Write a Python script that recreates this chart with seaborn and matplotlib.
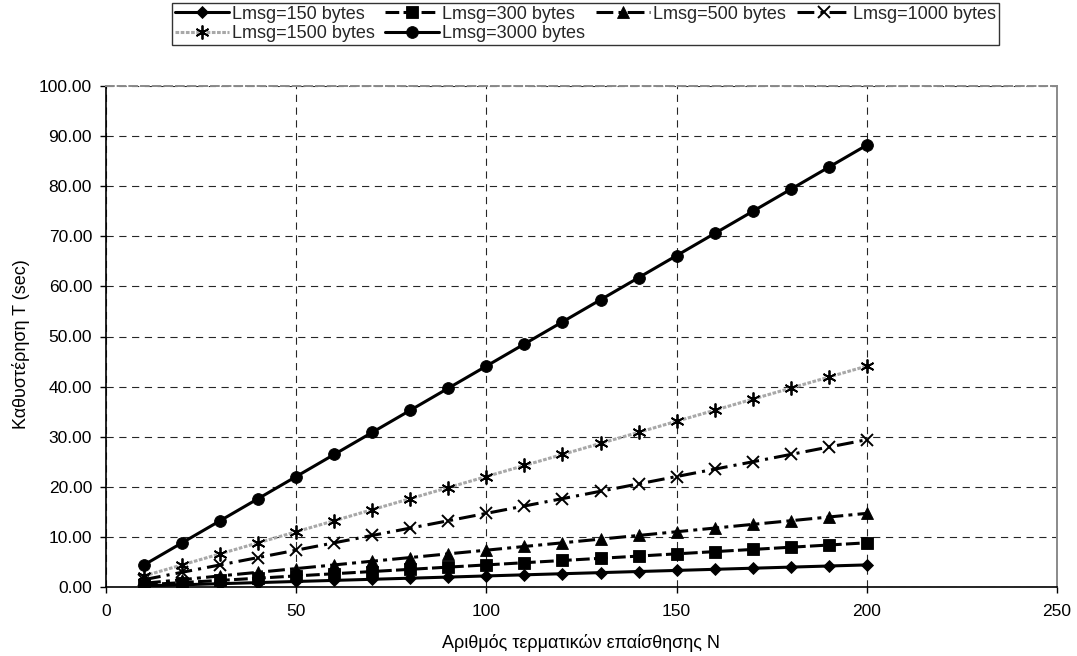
import matplotlib
matplotlib.use("Agg")
import matplotlib.pyplot as plt
import seaborn as sns
import pandas as pd

N = [10, 20, 30, 40, 50, 60, 70, 80, 90, 100, 110, 120, 130, 140, 150, 160, 170, 180, 190, 200]
L150 = [0.22, 0.44, 0.66, 0.88, 1.10, 1.32, 1.54, 1.76, 1.98, 2.21, 2.43, 2.65, 2.87, 3.09, 3.31, 3.53, 3.75, 3.97, 4.19, 4.41]
L300 = [0.44, 0.88, 1.32, 1.76, 2.21, 2.65, 3.09, 3.53, 3.97, 4.41, 4.85, 5.29, 5.73, 6.17, 6.62, 7.06, 7.50, 7.94, 8.38, 8.82]
L500 = [0.74, 1.47, 2.21, 2.94, 3.68, 4.41, 5.15, 5.88, 6.62, 7.35, 8.09, 8.82, 9.56, 10.29, 11.03, 11.76, 12.50, 13.23, 13.97, 14.70]
L1000 = [1.47, 2.94, 4.41, 5.88, 7.35, 8.82, 10.29, 11.76, 13.23, 14.70, 16.17, 17.64, 19.11, 20.58, 22.05, 23.52, 24.99, 26.46, 27.93, 29.40]
L1500 = [2.21, 4.41, 6.62, 8.82, 11.03, 13.23, 15.44, 17.64, 19.85, 22.05, 24.26, 26.46, 28.67, 30.87, 33.08, 35.28, 37.49, 39.69, 41.90, 44.10]
L3000 = [4.41, 8.82, 13.23, 17.64, 22.05, 26.46, 30.87, 35.28, 39.69, 44.10, 48.51, 52.92, 57.33, 61.74, 66.15, 70.56, 74.97, 79.38, 83.79, 88.20]

labels = ["Lmsg=150 bytes", "Lmsg=300 bytes", "Lmsg=500 bytes", "Lmsg=1000 bytes",
          "Lmsg=1500 bytes", "Lmsg=3000 bytes"]
series = [L150, L300, L500, L1000, L1500, L3000]

xlabel = "Αριθμός τερματικών επαίσθησης Ν"
ylabel = "Καθυστέρηση T (sec)"
xticks = [0, 50, 100, 150, 200, 250]
yticks = [0, 10, 20, 30, 40, 50, 60, 70, 80, 90, 100]

sns.set_theme(style="white")
plt.rcParams['font.family'] = ['Liberation Sans', 'DejaVu Sans']

K = "black"
styles = [
    dict(color=K, linestyle="-", marker="D", markersize=6, markeredgewidth=0.6),
    dict(color=K, linestyle=(0, (4.5, 1.4)), marker="s", markersize=8, markeredgewidth=0.6),
    dict(color=K, linestyle=(0, (5.5, 1.7, 1.3, 1.7)), marker="^", markersize=8.5, markeredgewidth=0.6),
    dict(color=K, linestyle=(0, (5.5, 2.0, 1.0, 2.0)), marker="x", markersize=8, markeredgewidth=1.4),
    dict(color="#a8a8a8", linestyle=(0, (1.2, 0.5)), marker=(6, 2, 0), markersize=10,
         markerfacecolor=K, markeredgewidth=1.3),
    dict(color=K, linestyle="-", marker="o", markersize=8.5, markeredgewidth=0.6),
]

fig = plt.figure(figsize=(10.77, 6.56), dpi=100)
ax = fig.add_axes([106 / 1077, (656 - 587) / 656, (1057 - 106) / 1077, (587 - 86) / 656])

for lab, vals, st in zip(labels, series, styles):
    df = pd.DataFrame({"N": N, "T": vals})
    sns.lineplot(data=df, x="N", y="T", ax=ax, label=lab, linewidth=2.2,
                 markeredgecolor=K, **st)

ax.set_xlim(0, 250)
ax.set_ylim(0, 100)
ax.set_xticks(xticks)
ax.set_yticks(yticks)
ax.set_xticklabels([str(v) for v in xticks])
ax.set_yticklabels([f"{v:.2f}" for v in yticks])
ax.tick_params(axis="both", direction="out", length=4.5, width=1, color=K,
               labelsize=12.5, labelcolor=K, bottom=True, left=True)
ax.tick_params(axis="x", pad=8)
ax.tick_params(axis="y", pad=5.5)
ax.grid(True, color=K, linestyle=(0, (6.5, 5)), linewidth=0.8, alpha=0.85)
ax.set_axisbelow(True)

for s in ["left", "bottom"]:
    ax.spines[s].set_color(K)
    ax.spines[s].set_linewidth(1.2)
ax.spines["top"].set_color("#8a8a8a")
ax.spines["top"].set_linewidth(1.4)
ax.spines["top"].set_linestyle((0, (4, 2)))
ax.spines["right"].set_color("#8a8a8a")
ax.spines["right"].set_linewidth(1.4)

ax.set_xlabel(xlabel, fontsize=13, color=K)
ax.set_ylabel(ylabel, fontsize=13, color=K)
ax.xaxis.set_label_coords(0.5, -0.094)
ax.yaxis.set_label_coords(-0.080, 0.485)

handles, labs = ax.get_legend_handles_labels()
order = [0, 4, 1, 5, 2, 3]
leg = ax.legend([handles[i] for i in order], [labs[i] for i in order],
                loc="upper left", bbox_to_anchor=(172 / 1077, 1 - 3 / 656),
                bbox_transform=fig.transFigure, ncol=4, frameon=True, fancybox=False,
                fontsize=13, handlelength=3.0, handletextpad=0.15, columnspacing=0.6,
                borderpad=0.15, labelspacing=0.15, borderaxespad=0)
leg.get_frame().set_edgecolor(K)
leg.get_frame().set_linewidth(1.0)

fig.savefig("out.png", dpi=100)
